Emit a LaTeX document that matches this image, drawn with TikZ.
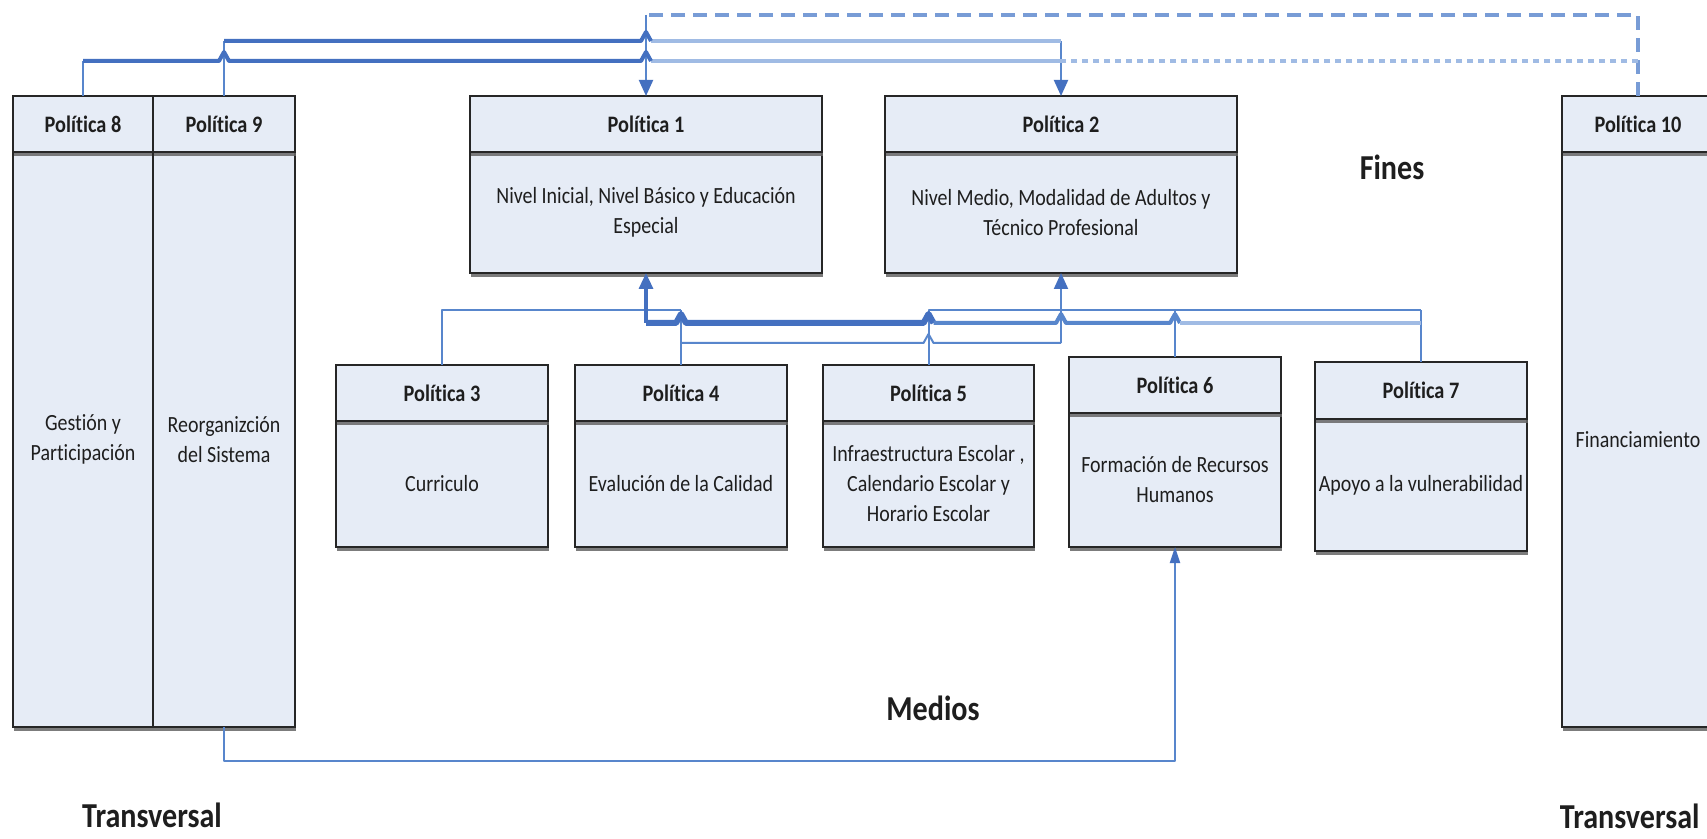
\documentclass[tikz,border=0pt]{standalone}
\usepackage{fontspec}
\setmainfont[FakeStretch=0.86,Ligatures=NoCommon]{Carlito}
\usetikzlibrary{arrows.meta,calc,shadows}
\definecolor{boxfill}{RGB}{230,236,246}
\definecolor{cdark}{RGB}{68,112,192}
\definecolor{cmid}{RGB}{88,134,204}
\definecolor{clight}{RGB}{160,187,228}
\definecolor{cdash}{RGB}{120,156,214}
\definecolor{txt}{RGB}{30,30,30}
\newcommand\polbox[9]{%
  \node[bodybox, minimum width=#3, minimum height=#7] (#1) at (#2,#6) {#9};
  \node[headbox, minimum width=#3, minimum height=#5] (#1h) at (#2,#4) {#8};
}
\begin{document}
\begin{tikzpicture}[x=0.5pt,y=-0.5pt,
  boxbase/.style={draw=black!85, line width=0.8pt, fill=boxfill, inner sep=1pt, outer sep=0pt,
    text=txt, align=center,
    drop shadow={shadow xshift=0.5pt, shadow yshift=-2pt, fill=black!60, opacity=0.85}},
  headbox/.style={boxbase, font=\fontsize{11.8}{14}\selectfont\bfseries},
  bodybox/.style={boxbase, font=\fontsize{11.6}{15}\selectfont},
  biglab/.style={inner sep=0pt, text=txt, font=\fontsize{17.5}{20}\selectfont\bfseries},
  conn/.style={draw=cmid, line width=1pt, line join=round},
  thickc/.style={draw=cdark, line width=2pt, line join=round},
  midc/.style={draw=cmid, line width=2pt, line join=round},
  lightc/.style={draw=clight, line width=2pt},
  dashc/.style={draw=cdash, line width=1.6pt, dash pattern=on 7pt off 4pt},
  dotc/.style={draw=clight, line width=1.6pt, dash pattern=on 3pt off 2.5pt},
  arr/.style={-{Triangle[length=8pt,width=7pt,color=cdark]}},
  sarr/.style={-{Triangle[length=8pt,width=5pt,color=cdark]}},
  hop/.style 2 args={insert path={-- ($(#1 |- #2)+(-5,0)$) -- ++(5,-9) -- ++(5,9)}}
]
\useasboundingbox (0,0) rectangle (1707,839);
\clip (0,0) rectangle (1707,839);
\fill[white] (0,0) rectangle (1707,839);

% level coordinates
\coordinate (yA) at (0,15);
\coordinate (yB) at (0,41);
\coordinate (yC) at (0,61);
\coordinate (m1) at (0,310);
\coordinate (m2) at (0,323);
\coordinate (m3) at (0,343);
\coordinate (yb) at (0,761);

% boxes: name, cx, width, header cy, header h, body cy, body h, title, body
\polbox{p8}{83}{70pt}{124}{28pt}{439.5}{287.5pt}{Política 8}{Gestión y\\Participación}
\polbox{p9}{224}{71pt}{124}{28pt}{439.5}{287.5pt}{Política 9}{Reorganizción\\del Sistema}
\polbox{p10}{1638}{76pt}{124}{28pt}{439.5}{287.5pt}{Política 10}{Financiamiento}
\polbox{p1}{646}{176pt}{124}{28pt}{212.5}{60.5pt}{Política 1}{Nivel Inicial, Nivel Básico y Educación\\Especial}
\polbox{p2}{1061}{176pt}{124}{28pt}{212.5}{60.5pt}{Política 2}{Nivel Medio, Modalidad de Adultos y\\Técnico Profesional}
\polbox{p3}{442}{106pt}{393}{28pt}{484}{63pt}{Política 3}{Curriculo}
\polbox{p4}{681}{106pt}{393}{28pt}{484}{63pt}{Política 4}{Evalución de la Calidad}
\polbox{p5}{928.5}{105.5pt}{393}{28pt}{484}{63pt}{Política 5}{Infraestructura Escolar ,\\Calendario Escolar y\\Horario Escolar}
\polbox{p6}{1175}{106pt}{385}{28pt}{480}{67pt}{Política 6}{Formación de Recursos\\Humanos}
\polbox{p7}{1421}{106pt}{390.5}{28.5pt}{485}{66pt}{Política 7}{Apoyo a la vulnerabilidad}

% labels
\node[biglab] (fines) at (1392,167) {Fines};
\node[biglab] (medios) at (933,708) {Medios};
\node[biglab] (tleft) at (152,815) {Transversal};
\node[biglab, anchor=east] (tright) at (1700,816) {Transversal};

% ---- top connectors (transversal -> fines)
\draw[conn] (p8h.north) -- (p8h.north |- yC);
\draw[conn] (p9h.north) -- (p9h.north |- yB);
\draw[conn,arr] (p1h.north |- yA) -- (p1h.north);
\draw[conn,arr] (p2h.north |- yB) -- (p2h.north);
\draw[dashc] (p10h.north) -- (p10h.north |- yA) -- (p1h.north |- yA);
\draw[dotc] (p10h.north |- yC) -- (p2h.north |- yC);
\draw[lightc] ($(p1h.north |- yB)+(5,0)$) -- (p2h.north |- yB);
\draw[lightc] ($(p1h.north |- yC)+(5,0)$) -- (p2h.north |- yC);
\draw[thickc] (p9h.north |- yB) [hop={p1h.north}{yB}];
\draw[thickc] (p8h.north |- yC) [hop={p9h.north}{yC}] [hop={p1h.north}{yC}];

% ---- middle connectors (medios -> fines)
\draw[conn] (p3h.north) -- (p3h.north |- m1) -- (p4h.north |- m1);
\draw[conn] (p4h.north) -- (p4h.north |- m1);
\draw[conn] (p5h.north) -- (p5h.north |- m1) -- (p7h.north |- m1);
\draw[conn] (p6h.north) -- (p6h.north |- m1);
\draw[conn] (p7h.north) -- (p7h.north |- m1);
\draw[conn,arr] (p2.south |- m3) -- (p2.south);
\draw[conn] (p4h.north |- m3) [hop={p5h.north}{m3}] -- (p2.south |- m3);
\draw[thickc, line width=1.6pt, arr] (p1.south |- m2) -- (p1.south);
\draw[thickc, line width=3pt] (p1.south |- m2) [hop={p4h.north}{m2}] [hop={p5h.north}{m2}];
\draw[midc] ($(p5h.north |- m2)+(5,0)$) [hop={p2.south}{m2}] [hop={p6h.north}{m2}];
\draw[lightc] ($(p6h.north |- m2)+(5,0)$) -- (p7h.north |- m2);

% ---- bottom connector
\draw[conn,sarr] (p9.south) -- (p9.south |- yb) -- (p6.south |- yb) -- (p6.south);
\end{tikzpicture}
\end{document}
